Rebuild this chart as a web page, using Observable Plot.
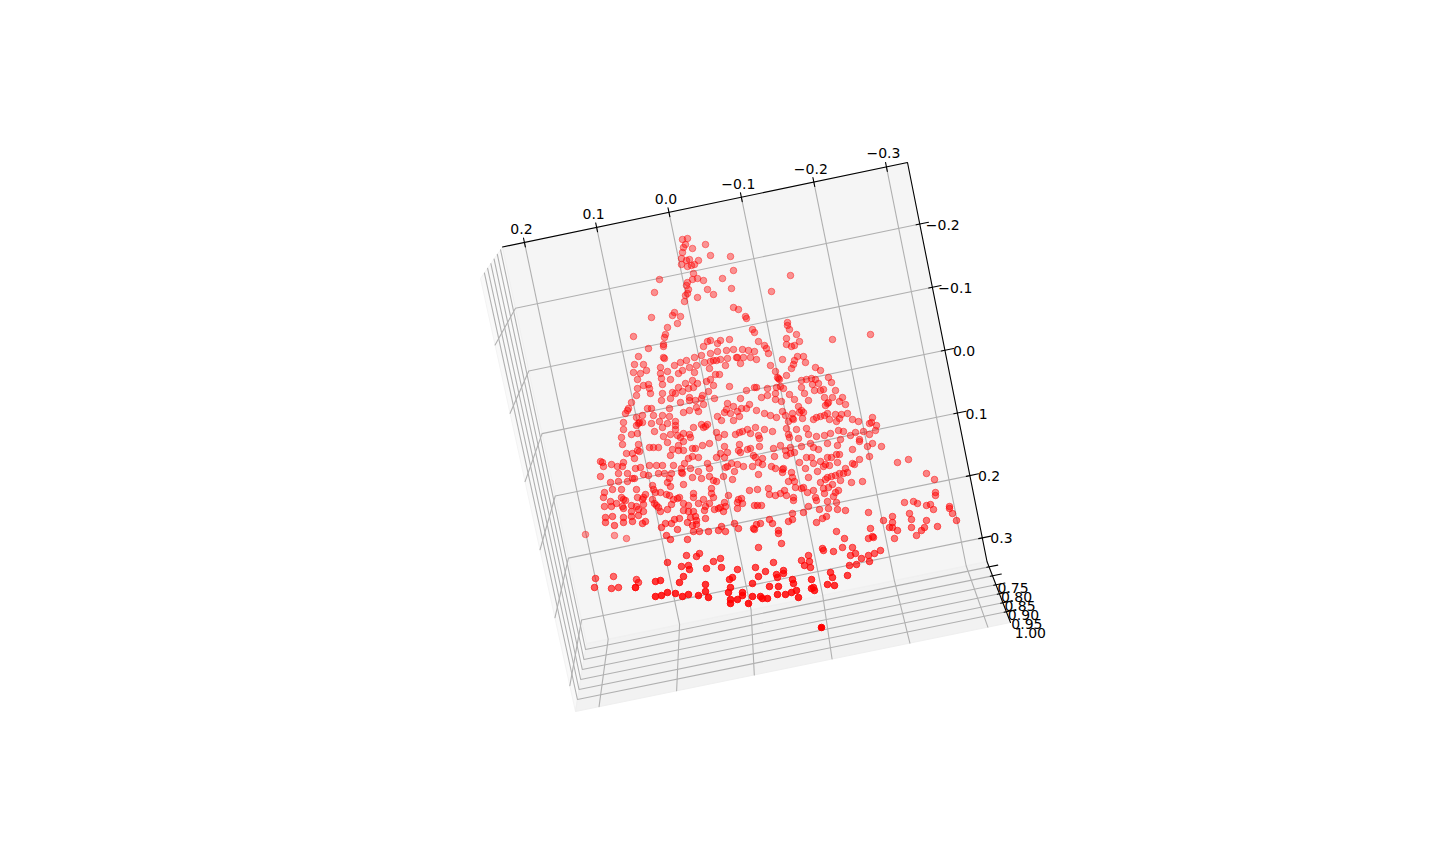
<!DOCTYPE html>
<html><head><meta charset="utf-8">
<style>html,body{margin:0;padding:0;background:#fff}svg{display:block}</style>
<script src="https://cdn.jsdelivr.net/npm/d3@7"></script>
<script src="https://cdn.jsdelivr.net/npm/@observablehq/plot@0.6"></script>
</head><body><script>
const xTicks=[0.2,0.1,0,-0.1,-0.2,-0.3];
const yTicks=[-0.2,-0.1,0,0.1,0.2,0.3];
const zTicks=[0.75,0.8,0.85,0.9,0.95,1];
const xLim=[0.2304,-0.329], yLim=[-0.297,0.338], zLim=[0.72,1.06];
// box corners: far face and near face, TL TR BR BL
const farFace=[[502,246.5],[907,162],[986.5,561],[586,643]];
const nearFace=[[480,278],[917,187],[1010,622],[575,711]];
const points=[
[682,239],[687,238],[705,244],[685,244],[683,247],[692,248],[682,252],[710,255],[730,256],[681,258],[686,260],[689,259],[698,260],[681,264],[687,266],[691,265],[694,264],[733,270],[693,273],[790,275],[659,279],[697,278],[692,279],[703,280],[722,278],[687,282],[686,285],[731,288],[707,289],[654,292],[688,289],[687,293],[685,295],[713,294],[771,291],[697,297],[684,301],[733,307],[738,309],[674,312],[672,315],[680,316],[651,317],[745,316],[746,318],[677,323],[787,322],[787,325],[789,329],[667,327],[752,329],[754,332],[796,334],[870,334],[633,336],[665,334],[664,337],[832,339],[786,338],[799,341],[729,339],[710,340],[707,341],[720,340],[717,343],[758,341],[663,344],[663,346],[786,344],[791,346],[794,345],[703,346],[764,345],[766,348],[648,348],[726,350],[733,349],[742,349],[748,350],[754,351],[717,351],[710,353],[768,353],[701,355],[694,357],[797,356],[803,356],[638,356],[663,357],[664,358],[736,357],[737,357],[743,357],[750,357],[756,359],[727,358],[720,359],[716,360],[713,360],[710,361],[704,362],[686,360],[680,362],[674,365],[782,359],[794,360],[793,364],[805,362],[740,363],[725,365],[770,365],[696,365],[689,367],[709,368],[660,367],[634,364],[643,364],[791,368],[815,367],[820,370],[646,370],[633,372],[640,373],[667,371],[660,373],[682,370],[678,373],[694,372],[715,374],[775,371],
[637,379],[643,385],[648,384],[637,388],[649,388],[650,393],[636,395],[661,378],[670,379],[662,384],[662,393],[661,400],[670,398],[675,393],[672,392],[678,387],[682,391],[685,383],[688,388],[692,380],[697,383],[693,387],[706,381],[710,379],[713,385],[708,391],[719,374],[729,386],[702,395],[701,398],[714,398],[689,397],[689,400],[695,400],[680,402],[703,404],[696,407],[698,411],[689,410],[683,412],[669,408],[631,402],[628,408],[627,410],[625,413],[647,408],[651,408],[653,415],[642,415],[636,417],[662,415],[669,416],[659,421],[667,423],[675,421],[675,425],[623,422],[636,425],[639,422],[642,422],[638,423],[651,423],[623,429],[631,434],[637,433],[621,437],[662,427],[654,431],[663,436],[670,434],[675,429],[677,435],[683,433],[689,434],[693,427],[701,424],[705,426],[707,424],[703,427],[721,420],[717,416],[724,412],[726,409],[727,403],[733,406],[730,413],[737,411],[739,416],[733,420],[716,432],[724,434],[735,434],[739,432],[680,437],[718,437],[690,437],
[778,378],[779,379],[777,377],[786,375],[801,380],[806,379],[811,378],[815,379],[828,377],[831,382],[812,384],[818,383],[801,387],[804,393],[814,390],[820,390],[823,389],[835,390],[808,400],[794,399],[789,394],[783,388],[780,386],[776,387],[775,393],[775,399],[781,401],[767,388],[767,395],[761,397],[756,387],[754,387],[746,390],[824,397],[832,397],[827,403],[828,402],[825,405],[839,401],[842,397],[845,404],[798,406],[801,410],[799,412],[803,412],[782,411],[785,415],[792,413],[764,413],[770,415],[776,417],[756,410],[749,404],[746,408],[741,408],[740,398],[827,413],[824,415],[820,416],[816,417],[813,419],[829,419],[835,414],[841,414],[847,413],[839,418],[836,421],[852,419],[858,421],[872,417],[871,422],[869,423],[876,425],[875,430],[792,418],[802,418],[788,421],[793,419],[786,428],[796,429],[806,428],[808,434],[788,434],[789,437],[830,433],[824,435],[816,436],[798,438],[838,430],[843,431],[855,432],[863,431],[869,434],[850,435],[840,439],[772,431],[764,429],[755,427],[750,433],[747,429],[742,431],[758,435],[759,438],[859,439],
[622,444],[638,444],[637,450],[649,447],[653,447],[658,447],[667,442],[678,445],[683,441],[672,449],[670,455],[678,450],[683,450],[692,448],[695,448],[702,445],[709,443],[626,453],[632,453],[639,451],[634,458],[600,461],[602,462],[603,466],[611,464],[617,466],[622,466],[623,462],[635,468],[640,467],[649,465],[656,465],[662,465],[673,465],[684,463],[688,458],[692,456],[698,457],[690,468],[681,468],[681,472],[682,473],[698,471],[707,463],[709,468],[716,457],[713,480],[716,481],[709,476],[701,478],[692,477],[683,484],[600,476],[618,473],[627,473],[618,481],[627,481],[634,478],[632,478],[643,474],[648,475],[658,473],[664,473],[671,473],[669,478],[667,482],[670,486],[610,482],[604,492],[612,489],[603,497],[621,489],[636,489],[652,485],[653,489],[655,492],[660,492],[666,494],[669,495],[645,494],[643,497],[642,499],[637,497],[621,497],[623,499],[625,500],[652,499],[610,501],[616,503],[604,506],[611,506],[622,506],[623,508],[631,505],[636,506],[643,504],[654,503],[658,507],[656,505],[671,504],[673,499],[677,498],[679,497],[693,493],[693,497],[683,503],[688,505],[698,503],[703,499],[711,488],[711,493],[713,497],[705,506],[709,503],[704,510],[714,509],[718,508],[688,511],[683,510],[693,511],[667,509],[660,511],[638,509],[631,511],[643,511],[638,515],[631,516],[623,517],[605,517],[612,516],[605,522],[623,522],[632,521],[645,521],[642,523],[614,525],[665,523],[661,527],[671,523],[674,519],[679,518],[677,529],[690,517],[695,516],[696,520],[696,524],[687,522],[705,518],[692,525],[614,535],[626,538],[666,535],[693,531],[699,531],[708,531],[718,530],[687,539],
[724,446],[739,444],[759,446],[773,448],[780,445],[790,447],[801,446],[810,443],[827,443],[837,445],[727,452],[738,450],[740,452],[747,449],[750,448],[720,453],[724,457],[753,455],[755,457],[762,458],[774,456],[785,450],[786,455],[790,453],[794,452],[813,447],[818,449],[806,457],[811,457],[827,457],[831,457],[836,454],[839,454],[837,462],[820,461],[799,462],[805,468],[813,463],[825,464],[829,465],[823,466],[725,467],[727,466],[731,463],[737,464],[743,466],[752,466],[758,462],[762,464],[771,466],[775,468],[782,469],[783,468],[782,472],[791,472],[734,471],[723,476],[732,479],[758,474],[792,477],[808,477],[817,471],[827,477],[831,476],[835,475],[839,473],[845,468],[847,472],[843,473],[788,481],[794,481],[795,487],[801,488],[807,492],[813,490],[803,487],[820,482],[825,479],[840,480],[832,484],[828,487],[823,488],[838,490],[835,492],[833,496],[824,493],[749,490],[757,489],[768,488],[769,494],[775,495],[780,493],[784,490],[786,495],[793,497],[793,500],[728,495],[738,499],[741,498],[742,503],[737,502],[724,502],[725,506],[720,507],[754,505],[757,505],[761,505],[737,508],[723,511],[815,497],[816,500],[827,501],[836,502],[819,509],[828,508],[837,509],[845,510],[808,506],[803,512],[792,513],[792,519],[788,521],[826,516],[822,518],[816,522],[769,519],[772,523],[756,524],[760,523],[754,529],[753,528],[734,523],[738,528],[725,531],[721,526],[778,530],[778,533],[836,531],[844,538],
[852,449],[859,441],[867,446],[872,443],[881,446],[869,456],[859,459],[852,463],[854,464],[897,462],[908,459],[926,473],[934,479],[862,481],[851,482],[935,492],[935,495],[904,502],[913,501],[917,503],[926,505],[930,504],[933,509],[949,506],[949,508],[952,513],[956,520],[868,512],[909,513],[911,519],[892,516],[892,522],[883,520],[926,520],[892,527],[889,527],[924,527],[911,527],[937,526],[870,528],[897,530],[921,530],[916,535],[873,537],[868,538],[894,538],[872,536],
[585,534],[670,539],[758,547],[686,555],[696,556],[699,553],[720,558],[713,561],[667,562],[681,566],[688,565],[689,569],[706,568],[721,567],[737,569],[755,567],[765,571],[758,576],[683,576],[595,578],[613,576],[636,579],[638,582],[655,581],[660,580],[679,582],[705,584],[732,577],[729,579],[752,583],[594,587],[611,588],[618,587],[635,587],[635,587],[730,587],[769,586],[705,591],[728,592],[742,592],[742,595],[655,596],[661,595],[667,592],[675,593],[682,596],[688,594],[698,595],[708,597],[752,596],[760,596],[762,598],[767,598],[730,599],[737,599],[730,603],[748,603],
[781,543],[822,548],[823,550],[833,551],[842,547],[852,547],[855,553],[850,555],[880,550],[874,553],[868,555],[869,561],[861,558],[856,564],[849,565],[808,555],[801,560],[809,561],[804,565],[810,567],[773,562],[776,574],[777,577],[783,570],[783,573],[830,572],[832,577],[847,575],[811,579],[792,579],[793,583],[778,586],[827,584],[834,585],[811,588],[813,587],[814,590],[796,590],[791,592],[777,594],[785,594],[798,597],[821,627]
];
// ---- box projection
function quadMap(q){
  const [[x0,y0],[x1,y1],[x2,y2],[x3,y3]]=q;
  const dx1=x1-x2,dx2=x3-x2,sx=x0-x1+x2-x3,dy1=y1-y2,dy2=y3-y2,sy=y0-y1+y2-y3;
  const den=dx1*dy2-dx2*dy1,g=(sx*dy2-dx2*sy)/den,h=(dx1*sy-sx*dy1)/den;
  const a=x1-x0+g*x1,b=x3-x0+h*x3,d=y1-y0+g*y1,e=y3-y0+h*y3;
  return (u,v)=>{const w=g*u+h*v+1;return [(a*u+b*v+x0)/w,(d*u+e*v+y0)/w];};
}
const far=quadMap(farFace),near=quadMap(nearFace);
function P(x,y,z){
  const u=(xLim[0]-x)/(xLim[0]-xLim[1]),v=(y-yLim[0])/(yLim[1]-yLim[0]),t=(z-zLim[0])/(zLim[1]-zLim[0]);
  const a=far(u,v),b=near(u,v);
  return [a[0]+(b[0]-a[0])*t,a[1]+(b[1]-a[1])*t];
}
const [xL,xR]=xLim,[yT,yB]=yLim,[zF,zN]=zLim;
const path=(...pts)=>pts.map(p=>P(...p));
const paneZ=path([xL,yT,zF],[xR,yT,zF],[xR,yB,zF],[xL,yB,zF],[xL,yT,zF]);
const paneX=path([xL,yT,zF],[xL,yB,zF],[xL,yB,zN],[xL,yT,zN],[xL,yT,zF]);
const paneY=path([xL,yB,zF],[xR,yB,zF],[xR,yB,zN],[xL,yB,zN],[xL,yB,zF]);
const grid=[
  ...xTicks.map(x=>path([x,yT,zF],[x,yB,zF],[x,yB,zN])),
  ...yTicks.map(y=>path([xR,y,zF],[xL,y,zF],[xL,y,zN])),
  ...zTicks.map(z=>path([xL,yT,z],[xL,yB,z],[xR,yB,z]))
];
const spine=path([xL,yT,zF],[xR,yT,zF],[xR,yB,zF],[xR,yB,zN]);
const ticks=[
  ...xTicks.map(x=>path([x,yT-0.007,zF],[x,yT+0.007,zF])),
  ...yTicks.map(y=>path([xR-0.012,y,zF],[xR+0.005,y,zF])),
  ...zTicks.map(z=>path([xR-0.012,yB,z],[xR+0.003,yB,z]))
];
const fmt=(v,n)=>(v<0?"\u2212":"")+Math.abs(v).toFixed(n);
const xLabels=xTicks.map(x=>({p:P(x,yT,zF),s:fmt(x,1)}));
const yLabels=yTicks.map(y=>({p:P(xR,y,zF),s:fmt(y,1),neg:y<0}));
const zLabels=zTicks.map(z=>({p:P(xR,yB,z),s:fmt(z,2)}));
// depth shading: nearer points are more opaque
const shadeY=d3.scaleLinear([240,430,500,550,590,627],[.4,.44,.48,.6,.82,1]).clamp(true);
const shade=([x,y])=>{
  let a=shadeY(y);
  if(y>530&&y<620){ if(x<650)a-=.18; else if(x>880)a=Math.min(a,.52); }
  return a;
};
const lineOf=(pts,o)=>Plot.line(pts,{x:d=>d[0],y:d=>d[1],curve:"linear",...o});
const labelOf=(rows,o)=>Plot.text(rows,{x:d=>d.p[0],y:d=>d.p[1],text:d=>d.s,fontSize:14,fill:"#000",...o});
const plot=Plot.plot({
  width:1440,height:864,margin:0,
  x:{domain:[0,1440],range:[0,1440],axis:null},
  y:{domain:[0,864],range:[0,864],axis:null},
  opacity:{type:"identity"},
  style:{background:"#fff",fontFamily:"'DejaVu Sans'"},
  marks:[
    lineOf(paneX,{fill:"#f9f9f9",stroke:"#f3f3f3",strokeWidth:1}),
    lineOf(paneY,{fill:"#f2f2f2",stroke:"#efefef",strokeWidth:1}),
    lineOf(paneZ,{fill:"#f5f5f5",stroke:"#f0f0f0",strokeWidth:1}),
    ...grid.map(g=>lineOf(g,{stroke:"#b0b0b0",strokeWidth:1.1})),
    lineOf(spine,{stroke:"#000",strokeWidth:1.1}),
    ...ticks.map(t=>lineOf(t,{stroke:"#000",strokeWidth:1.1})),
    Plot.dot(points,{x:d=>d[0],y:d=>d[1],r:3.3,fill:"#ff0000",stroke:"#ff0000",strokeWidth:1,fillOpacity:shade,strokeOpacity:shade}),
    labelOf(xLabels,{textAnchor:"middle",dx:-3,dy:-13}),
    labelOf(yLabels.filter(d=>d.neg),{textAnchor:"start",dx:6,dy:1}),
    labelOf(yLabels.filter(d=>!d.neg),{textAnchor:"start",dx:8,dy:1}),
    labelOf(zLabels,{textAnchor:"middle",dx:24,dy:22})
  ]
});
document.body.appendChild(plot);
</script></body></html>
